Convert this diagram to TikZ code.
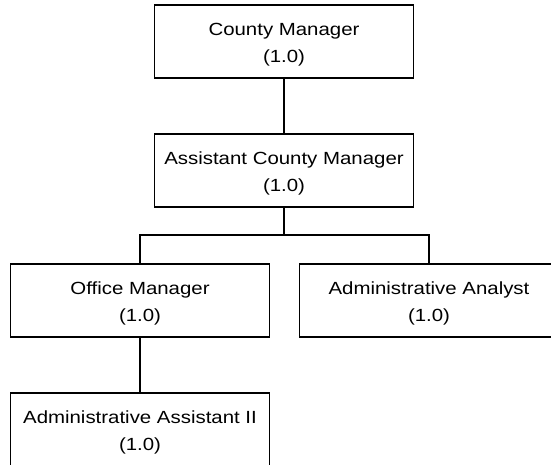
\documentclass[tikz,border=0pt]{standalone}
\usepackage{fontspec}
\setmainfont[FakeStretch=1.16]{Liberation Sans}
\begin{document}
\begin{tikzpicture}[x=1pt,y=-1pt,
  orgbox/.style={draw=black, line width=1.6pt, fill=white, minimum width=259pt, minimum height=73pt, inner sep=0pt},
  lbl/.style={anchor=base, inner sep=0pt, font=\fontsize{17.6}{27}\selectfont},
  conn/.style={draw=black, line width=1.6pt}]
\useasboundingbox (0,0) rectangle (551,464);
\clip (0,0) rectangle (551,464);
\node[orgbox] (cm) at (284,41.5) {};
\node[orgbox] (acm) at (284,170.5) {};
\node[orgbox] (om) at (140,300.5) {};
\node[orgbox] (aa) at (429,300.5) {};
\node[orgbox] (aai) at (140,429.5) {};
\coordinate (bus) at (284,235);
\draw[conn] (cm.south) -- (acm.north);
\draw[conn] (acm.south) -- (bus);
\draw[conn] (om.north) |- (bus) -| (aa.north);
\draw[conn] (om.south) -- (aai.north);
\path (cm.north) ++(0,31.5) node[lbl] (cma) {County Manager};
\path (cm.north) ++(0,58.5) node[lbl] (cmb) {(1.0)};
\path (acm.north) ++(0,31.5) node[lbl] (acma) {Assistant County Manager};
\path (acm.north) ++(0,58.5) node[lbl] (acmb) {(1.0)};
\path (om.north) ++(0,31.5) node[lbl] (oma) {Office Manager};
\path (om.north) ++(0,58.5) node[lbl] (omb) {(1.0)};
\path (aa.north) ++(0,31.5) node[lbl] (aaa) {Administrative Analyst};
\path (aa.north) ++(0,58.5) node[lbl] (aab) {(1.0)};
\path (aai.north) ++(0,31.5) node[lbl] (aaia) {Administrative Assistant II};
\path (aai.north) ++(0,58.5) node[lbl] (aaib) {(1.0)};
\end{tikzpicture}
\end{document}
